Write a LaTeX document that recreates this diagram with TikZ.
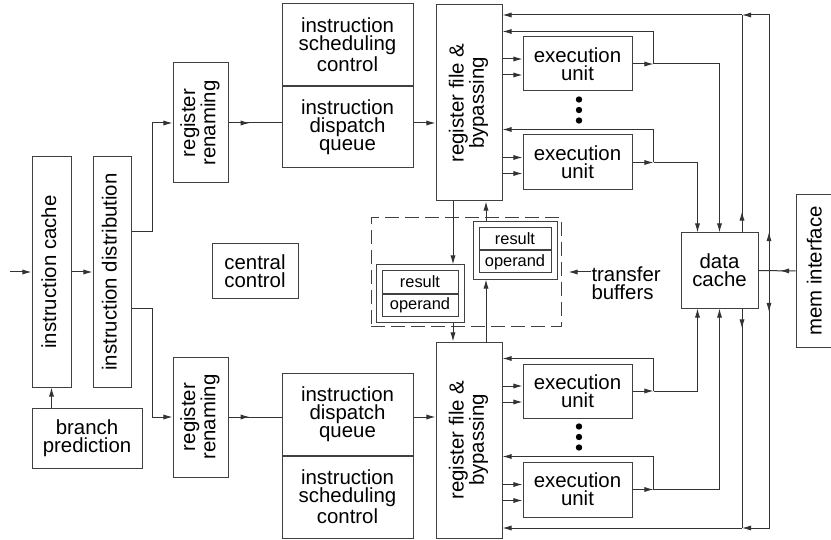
\documentclass[tikz,border=0pt]{standalone}
\usepackage{fontspec}
\setmainfont{Liberation Sans}
\usetikzlibrary{arrows.meta,positioning,calc,fit,decorations.markings}

\newcommand{\vtext}[1]{\rotatebox{90}{\begin{tabular}{@{}c@{}}#1\end{tabular}}}

\begin{document}
\begin{tikzpicture}[
  x=0.5pt, y=-0.5pt,
  line width=0.5pt,
  block/.style={rectangle, draw=black!75, inner sep=0pt, font=\fontsize{10.2}{9.1}\selectfont, align=center},
  cell/.style={rectangle, draw=black!75, inner sep=0pt, minimum width=36pt, minimum height=11pt, font=\fontsize{8.2}{9}\selectfont},
  arrow/.style={-{Latex[length=4.6pt,width=2.6pt]}, draw=black!80},
  wire/.style={draw=black!80},
  midarrow/.style={wire, postaction={decorate}, decoration={markings, mark=at position #1 with {\arrow{Latex[length=4.6pt,width=2.6pt]}}}}
]
  \useasboundingbox (0,0) rectangle (831,540);

  % front end
  \node[block, minimum width=19.5pt, minimum height=115pt] (icache) at (51.5,272) {\vtext{instruction cache}};
  \node[block, minimum width=19pt, minimum height=115pt] (idist) at (112,272) {\vtext{instruction distribution}};
  \node[block, minimum width=55pt, minimum height=30pt] (bpred) at (87,438) {branch\\prediction};
  \node[block, minimum width=43pt, minimum height=27pt] (ctrl) at (255,271) {central\\control};

  % upper cluster
  \node[block, minimum width=27.5pt, minimum height=60pt] (ren1) at (200.5,123) {\vtext{register\\renaming}};
  \node[block, minimum width=65.5pt, minimum height=41pt] (sched1) at (347.5,45) {instruction\\scheduling\\control};
  \node[block, minimum width=65.5pt, minimum height=40.5pt, below=0pt of sched1] (disp1) {instruction\\dispatch\\queue};
  \node[block, minimum width=33pt, minimum height=98pt] (rf1) at (469,103) {\vtext{register file \&\\bypassing}};
  \node[block, minimum width=54.5pt, minimum height=27pt] (ex1) at (577.5,64) {execution\\unit};
  \node[block, minimum width=54.5pt, minimum height=27.5pt] (ex2) at (577.5,162.5) {execution\\unit};

  % lower cluster
  \node[block, minimum width=27.5pt, minimum height=60pt] (ren2) at (200.5,417) {\vtext{register\\renaming}};
  \node[block, minimum width=65.5pt, minimum height=41pt] (disp2) at (347.5,414) {instruction\\dispatch\\queue};
  \node[block, minimum width=65.5pt, minimum height=41pt, below=0pt of disp2] (sched2) {instruction\\scheduling\\control};
  \node[block, minimum width=33pt, minimum height=98pt] (rf2) at (469,440) {\vtext{register file \&\\bypassing}};
  \node[block, minimum width=54.5pt, minimum height=27pt] (ex3) at (577.5,391) {execution\\unit};
  \node[block, minimum width=54.5pt, minimum height=27.5pt] (ex4) at (577.5,489.5) {execution\\unit};

  % memory side
  \node[block, minimum width=38.5pt, minimum height=37.5pt] (dcache) at (719.5,270.5) {data\\cache};
  \node[block, minimum width=21pt, minimum height=76pt] (mem) at (817,271) {\vtext{mem interface}};

  % transfer buffers
  \node[draw=black!75, dash pattern=on 7pt off 3pt, minimum width=95pt, minimum height=54pt] (tbuf) at (466,272) {};
  \node[cell] (resA) at (515,239) {result};
  \node[cell, below=0pt of resA] (opA) {operand};
  \node[draw=black!75, inner sep=2.75pt, fit=(resA)(opA)] (bufA) {};
  \node[cell, minimum width=38pt] (resB) at (420,282) {result};
  \node[cell, minimum width=38pt, below=0pt of resB] (opB) {operand};
  \node[draw=black!75, inner sep=2.75pt, fit=(resB)(opB)] (bufB) {};
  \node[block, draw=none, align=left, anchor=west] (tblabel) at (591,283) {transfer\\buffers};
  \draw[arrow, shorten >=3.5pt] (tblabel.west |- tbuf.east) -- (tbuf.east);

  % fetch and distribution
  \coordinate (in) at (10,272);
  \draw[arrow] (in) -- (icache.west);
  \draw[arrow] (icache.east) -- (idist.west);
  \draw[arrow] (bpred.north -| icache.south) -- (icache.south);
  \draw[arrow] ($(idist.east)+(0,-40)$) -- ++(21,0) |- (ren1.west);
  \draw[arrow] ($(idist.east)+(0,36)$) -- ++(21,0) |- (ren2.west);
  \draw[midarrow=0.4] (ren1.east) -- (ren1.east -| disp1.west);
  \draw[midarrow=0.4] (ren2.east) -- (ren2.east -| disp2.west);
  \draw[arrow] (disp1.east |- ren1.east) -- (rf1.west |- ren1.east);
  \draw[arrow] (disp2.east |- ren2.east) -- (rf2.west |- ren2.east);

  % execution units
  \foreach \e/\r/\side/\dx in {ex1/rf1/north/0, ex2/rf1/north/-22, ex3/rf2/south/-22, ex4/rf2/south/0} {
    \coordinate (i1) at ($(\e.west)+(0,-5)$);
    \coordinate (i2) at ($(\e.west)+(0,11)$);
    \draw[arrow] (\r.east |- i1) -- (i1);
    \draw[arrow] (\r.east |- i2) -- (i2);
    \coordinate (j) at ($(\e.east)+(21,0)$);
    \coordinate (fb) at ($(\e.north)+(0,-5)$);
    \draw[arrow] (\e.east) -- (j);
    \draw[arrow] (j) |- (\r.east |- fb);
    \draw[arrow] (j) -| ($(dcache.\side)+(\dx,0)$);
  }
  \foreach \a/\b in {ex1/ex2, ex3/ex4}
    \foreach \k in {-1,0,1}
      \fill[black] ($(\a.south)!0.5!(\b.north)+(1.5,{-3+10.5*\k})$) circle (1.6pt);

  % transfers between the clusters
  \coordinate (dn) at ($(rf1.south)+(-16,0)$);
  \coordinate (up) at ($(rf2.north)+(17,0)$);
  \draw[arrow] (dn) -- (dn |- bufB.north);
  \draw[arrow] (dn |- bufB.south) -- (dn |- rf2.north);
  \draw[arrow] (up) -- (up |- bufA.south);
  \draw[arrow] (up |- bufA.north) -- (up |- rf1.south);

  % data cache and memory busses
  \coordinate (busT) at (742,15);
  \coordinate (busB) at (742,528);
  \coordinate (memT) at (769,15);
  \coordinate (memB) at (769,528);
  \coordinate (cT) at ($(dcache.north)+(22.5,0)$);
  \coordinate (cB) at ($(dcache.south)+(22.5,0)$);
  \draw[arrow] (cT) -- ++(0,-21);
  \draw[wire] (cT) -- (busT);
  \draw[arrow] (busT) -- (rf1.east |- busT);
  \draw[arrow] (cB) -- ++(0,20);
  \draw[wire] (cB) -- (busB);
  \draw[arrow] (busB) -- (rf2.east |- busB);
  \coordinate (mj) at (mem.west -| memT);
  \draw[midarrow=0.42] (mem.west) -- (dcache.east);
  \draw[arrow] (mj) -- ++(0,-39);
  \draw[arrow] (mj) -- ++(0,41);
  \draw[arrow] (mj) -- (memT) -- (busT);
  \draw[arrow] (mj) -- (memB) -- (busB);
\end{tikzpicture}
\end{document}
